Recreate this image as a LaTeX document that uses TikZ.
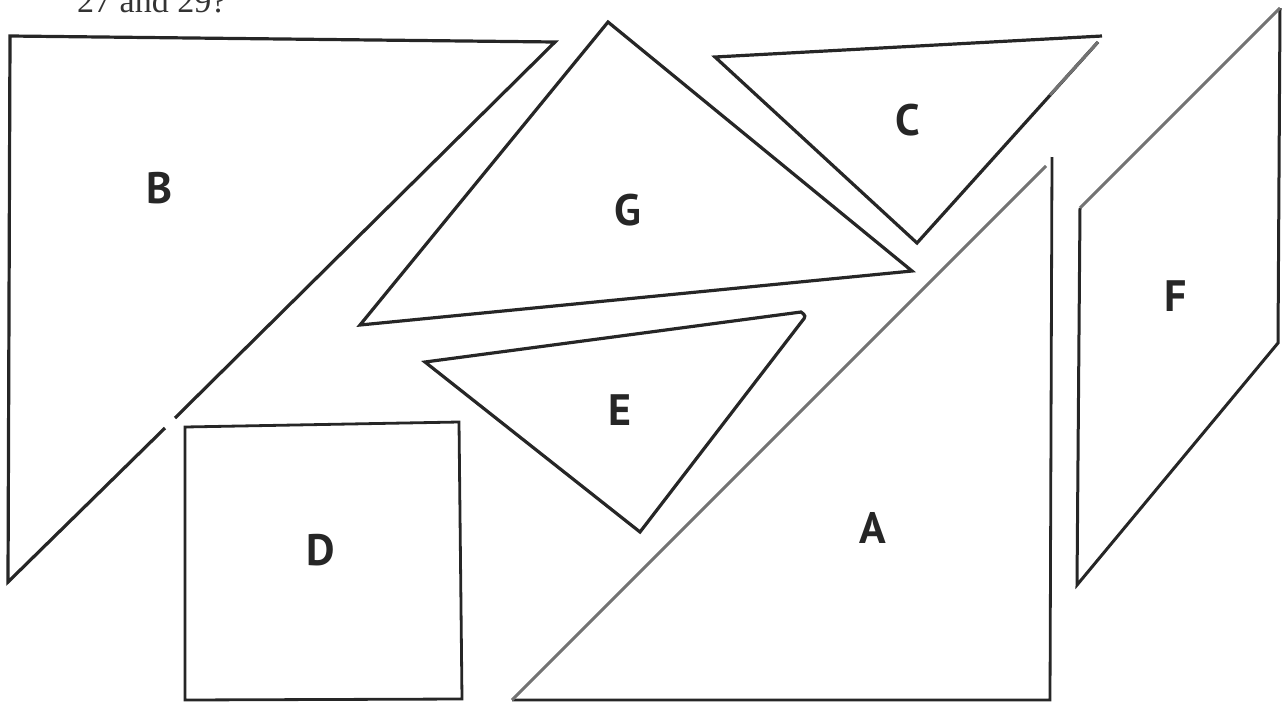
\documentclass[tikz,border=0pt]{standalone}
\usepackage{fontspec}
\setmainfont{Liberation Serif}
\newfontfamily\labelfont{PT Sans}
\begin{document}
\begin{tikzpicture}[x=1pt,y=-1pt,
  piece/.style={draw=black!85, line width=3.2pt, line join=miter},
  faint/.style={draw=black!55, line width=3.0pt},
  lbl/.style={font=\labelfont\bfseries\fontsize{44}{44}\selectfont, text=black!85, inner sep=0pt}]
\useasboundingbox (0,0) rectangle (1286,702);
\clip (0,0) rectangle (1286,702);
% top caption, cut by the frame
\node[anchor=base west, inner sep=0pt, font=\fontsize{34}{34}\selectfont, text=black!80] (cap) at (77,12) {27 and 29?};
% B
\draw[piece] (175,418) -- (555,42) -- (10,36) -- (8,582) -- (165,428);
% G
\draw[piece] (608,22) -- (912,271) -- (360,325) -- cycle;
% C
\draw[piece] (1098,42) -- (917,243) -- (715,57) -- (1102,36);
\draw[faint] (1098,42) -- (1050,95);
% E
\draw[piece] (425,362) -- (801,312) [rounded corners=3pt] -- (806,316) [sharp corners] -- (640,532) -- cycle;
% D
\draw[piece, line width=2.8pt] (185,427) -- (459,422) -- (462,699) -- (185,700) -- cycle;
% A
\draw[piece, line width=2.8pt] (1052,157) -- (1050,700) -- (512,700);
\draw[faint] (512,700) -- (1046,166);
% F
\draw[piece, line width=3.0pt] (1280,8) -- (1278,343) -- (1077,585) -- (1080,208);
\draw[faint] (1080,208) -- (1280,8);
% labels
\node[lbl] (lB) at (160,188) {B};
\node[lbl] (lG) at (628,210) {G};
\node[lbl] (lC) at (908,120) {C};
\node[lbl] (lE) at (620,410) {E};
\node[lbl] (lD) at (321,550) {D};
\node[lbl] (lA) at (873,528) {A};
\node[lbl] (lF) at (1176,296) {F};
\end{tikzpicture}
\end{document}
